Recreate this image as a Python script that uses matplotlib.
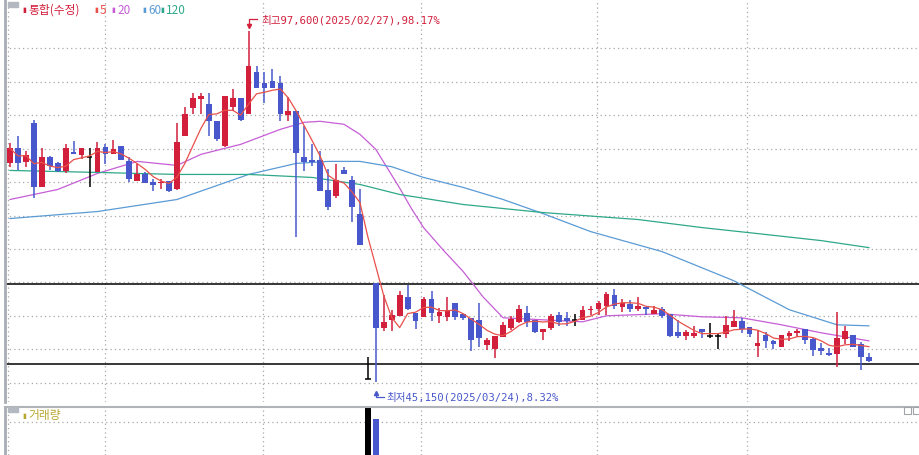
import matplotlib.pyplot as plt
import numpy as np
import pandas as pd

plt.rcParams["font.family"] = ["Noto Sans CJK KR", "DejaVu Sans"]

# daily OHLC (won)
opens = [77800, 80050, 77950, 83800, 74200, 78700, 77800, 76600, 79450, 79000,
         78700, 76450, 80200, 79150, 80350, 78100, 75100, 76150, 74950, 74800,
         75100, 73900, 81850, 86050, 87400, 86650, 84100, 80350, 86200, 87550,
         85150, 91450, 89800, 90100, 89800, 85000, 85600, 78700, 78250, 78250,
         73750, 72850, 76750, 75250, 70300, 45550, 59950, 53200, 54400, 55000,
         57850, 55450, 54850, 57550, 55000, 54850, 56950, 55300, 54700, 54400,
         50650, 50050, 51850, 53200, 54100, 55450, 54400, 52600, 53200, 55150,
         54700, 54400, 54400, 55900, 56050, 56500, 58150, 56350, 56800, 56050,
         56350, 55300, 56050, 55300, 52600, 52000, 52000, 53050, 52000, 52000,
         52300, 53350, 54250, 53350, 50500, 52150, 51250, 50350, 52000, 52450,
         53050, 51550, 50200, 49450, 49300, 51550, 52150, 50800, 48850]
highs = [80800, 81850, 79600, 84250, 80050, 78850, 77950, 80650, 81100, 80050,
         80050, 80950, 80650, 81250, 80350, 78700, 77650, 76450, 75400, 75400,
         75100, 83800, 86200, 88300, 88300, 88300, 84100, 87850, 88900, 87550,
         97600, 92350, 91450, 91900, 90850, 87700, 85600, 83350, 80650, 79600,
         76900, 77650, 77200, 75850, 73900, 48850, 59950, 58150, 55900, 58750,
         59650, 55450, 57850, 58750, 56200, 57850, 56950, 55300, 54700, 56950,
         51700, 52000, 54100, 55000, 56650, 56500, 54400, 53050, 55300, 55600,
         55600, 55300, 56500, 56500, 57250, 58600, 59050, 57550, 57400, 57850,
         56350, 56500, 56350, 55300, 54400, 52900, 53500, 53050, 53950, 52450,
         55000, 55900, 54700, 53350, 52900, 52600, 51400, 52150, 52750, 53050,
         53050, 51700, 50950, 50200, 55600, 53500, 52150, 51100, 49450]
lows = [77200, 76750, 77200, 72550, 74200, 76750, 76450, 76300, 79150, 78400,
        74200, 76450, 77650, 79150, 78250, 74950, 75100, 74800, 73600, 73900,
        73450, 73750, 81850, 85150, 85150, 81850, 81100, 80200, 85600, 84100,
        85150, 89050, 86800, 89050, 84100, 84100, 66850, 76600, 77350, 73600,
        70900, 72550, 76150, 69100, 65650, 45550, 45150, 52750, 52750, 55000,
        55900, 53050, 54850, 54250, 53950, 54250, 54400, 54400, 49750, 50350,
        49900, 48700, 51850, 52900, 53950, 53350, 52450, 51400, 52900, 53500,
        53500, 53500, 54400, 55150, 55150, 55150, 56050, 55600, 55600, 55750,
        55150, 55300, 54700, 51850, 51700, 51400, 51700, 51700, 51700, 50050,
        51700, 53350, 52450, 51850, 48850, 50200, 50050, 50350, 51250, 51850,
        50800, 49000, 49150, 49000, 47350, 50800, 50350, 46900, 48100]
closes = [80050, 77800, 79000, 74200, 78700, 77350, 76600, 80050, 79150, 80050,
          78700, 80050, 79150, 79900, 78250, 75400, 76150, 74800, 74500, 74950,
          73600, 80950, 85150, 87550, 87850, 84100, 81400, 87850, 87550, 84250,
          92350, 89050, 89050, 89050, 85150, 85600, 79300, 77950, 77950, 73600,
          71350, 75250, 76150, 71350, 65650, 45550, 53200, 54100, 55150, 58150,
          56050, 54250, 57550, 55450, 55600, 55900, 54850, 54700, 51400, 51700,
          51400, 52000, 53650, 54550, 56050, 54100, 52600, 53050, 55000, 54100,
          54250, 54400, 55900, 56050, 56950, 58300, 56500, 56950, 56050, 56500,
          56050, 55900, 55000, 52000, 52000, 52600, 52450, 52600, 52000, 52000,
          53650, 54250, 53050, 52300, 50950, 51250, 50800, 52150, 52450, 52750,
          51400, 49900, 49750, 49150, 51700, 52750, 50350, 48850, 48250]
volume = [0] * 45 + [100, 66] + [0] * 62

# moving averages that need history before the window: (candle index, price)
ma20_idx = [0, 6, 11, 16, 21, 24, 29, 34, 37, 39, 42, 44, 46, 47.5, 49, 50.5, 52, 54.5, 57, 59.5,
            62, 67, 72, 75, 82, 87, 92, 97, 102, 108]
ma20_val = [72400, 73900, 76300, 78100, 77500, 79150, 80650, 82900, 83950, 84100, 83650, 82150, 79900,
            77000, 74100, 71000, 68200, 64800, 61600, 57800,
            54700, 54400, 54100, 55000, 55300, 54850, 54700, 53650, 52450, 51250]
ma60_idx = [0, 11, 21, 30, 36, 40, 44, 48, 52, 57, 62, 67, 73, 82, 91, 98, 104, 108]
ma60_val = [69550, 70600, 72400, 76150, 77800, 78100, 78100, 77300, 75700, 74200, 72400, 70300,
            67600, 64600, 60250, 55900, 53650, 53500]
ma120_idx = [0, 11, 21, 30, 38, 44, 49, 53, 57, 67, 79, 87, 94, 102, 108]
ma120_val = [76750, 76450, 76150, 76150, 75700, 74650, 73150, 72400, 71650, 70450, 69400, 68200, 67300, 66250, 65200]

support = [59800, 47800]
month_lines = [-0.25, 11.95, 31.8, 51.7, 73.8, 92.7]

RED = "#d21f3c"
BLUE = "#4858cc"
C5, C20, C60, C120 = "#e8504a", "#c65ed6", "#5b9bd5", "#2ea88a"
GRID = "#a8a8a8"

df = pd.DataFrame({"o": opens, "h": highs, "l": lows, "c": closes, "v": volume})
x = np.arange(len(df))
ma5 = df["c"].rolling(5, min_periods=1).mean()

fig = plt.figure(figsize=(9.19, 4.56), dpi=100)
ax = fig.add_axes([5 / 919, 1 - 403 / 456, 914 / 919, 403 / 456])
axv = fig.add_axes([5 / 919, 0, 914 / 919, 48 / 456])

xlim = (-0.63, 114.3)
for a in (ax, axv):
    a.set_xlim(*xlim)
    a.set_xticks([])
    a.set_yticks([])
    for s in ("top", "right", "bottom"):
        a.spines[s].set_visible(False)
    a.spines["left"].set_color("#a8acb4")
    a.spines["left"].set_linewidth(2)
    for m in month_lines:
        a.axvline(m, color=GRID, lw=0.9, ls=(0, (1, 2.5)), zorder=0)
axv.spines["top"].set_visible(True)
axv.spines["top"].set_color("#b0b4b8")
axv.spines["top"].set_linewidth(1.5)

ax.set_ylim(42100, 102400)
for g in range(45000, 100000, 5000):
    ax.axhline(g, color=GRID, lw=0.9, ls=(0, (1, 2.5)), zorder=0)
for s in support:
    ax.axhline(s, color="black", lw=1.1, zorder=1)

# candles
for i, r in df.iterrows():
    if r.c > r.o:
        col = RED
    elif r.c < r.o:
        col = BLUE
    else:
        col = "black"
    ax.vlines(i, r.l, r.h, color=col, lw=1.1, zorder=3)
    if r.c == r.o:
        ax.hlines(r.c, i - 0.35, i + 0.35, color=col, lw=1.1, zorder=3)
    else:
        ax.bar(i, abs(r.c - r.o), bottom=min(r.o, r.c), width=0.72, color=col, zorder=3)

ax.plot(x, ma5, color=C5, lw=0.9, zorder=4)
ax.plot(ma20_idx, ma20_val, color=C20, lw=0.9, zorder=2)
ax.plot(ma60_idx, ma60_val, color=C60, lw=0.9, zorder=2)
ax.plot(ma120_idx, ma120_val, color=C120, lw=0.9, zorder=2)

# high / low labels
mono = ["DejaVu Sans Mono", "Noto Sans CJK KR"]
ih = int(np.argmax(highs))
ax.plot([ih, ih, ih + 1.1], [98500, 99400, 99400], color=RED, lw=0.9)
ax.plot(ih, 98400, marker="v", ms=3, color=RED)
ax.text(ih + 1.6, 99400, f"최고{max(highs):,}(2025/02/27),98.17%", color=RED,
        fontsize=7.6, va="center", family=mono)
il = int(np.argmin(lows))
ax.plot([il, il, il + 1.0], [43400, 42900, 42900], color=BLUE, lw=0.9)
ax.plot(il, 43500, marker="^", ms=3, color=BLUE)
ax.text(il + 1.3, 42950, f"최저{min(lows):,}(2025/03/24),8.32%", color=BLUE,
        fontsize=7.6, va="center", family=mono)

# legend row
fig.patches.append(plt.Rectangle((8 / 919, 1 - 8 / 456), 10 / 919, 5 / 456,
                                 transform=fig.transFigure, color="#b4b8c0"))
items = [("▮", 22, RED), ("통합(수정)", 28, RED), ("▮", 94, C5), ("5", 100, C5),
         ("▮", 111, C20), ("20", 117, C20), ("▮", 142, C60), ("60", 148, C60),
         ("▮", 160, C120), ("120", 166, C120)]
for t, px, col in items:
    fs = 5 if t == "▮" else 8.5
    fig.text(px / 919, 1 - 10 / 456, t, color=col, fontsize=fs, va="center")

# volume
axv.set_ylim(0, 100 * 32 / 36)
axv.axhline(100 * 22 / 36, color=GRID, lw=0.9, ls=(0, (1, 2.5)), zorder=0)
vcol = ["black" if o == c else (RED if c > o else BLUE) for o, c in zip(opens, closes)]
axv.bar(x, df["v"], width=0.72, color=vcol)
fig.patches.append(plt.Rectangle((8 / 919, 1 - 413 / 456), 10 / 919, 5 / 456,
                                 transform=fig.transFigure, color="#b4b8c0"))
fig.text(22 / 919, 1 - 416 / 456, "▮", color="#b8a830", fontsize=5, va="center")
fig.text(28 / 919, 1 - 416 / 456, "거래량", color="#b8a830", fontsize=8.5, va="center")
for px in (904, 913):
    fig.patches.append(plt.Rectangle((px / 919, 1 - 415 / 456), 7 / 919, 7 / 456,
                                     transform=fig.transFigure, facecolor="white",
                                     edgecolor="#a0a4a8", lw=0.8))

fig.savefig("out.png", dpi=100)
